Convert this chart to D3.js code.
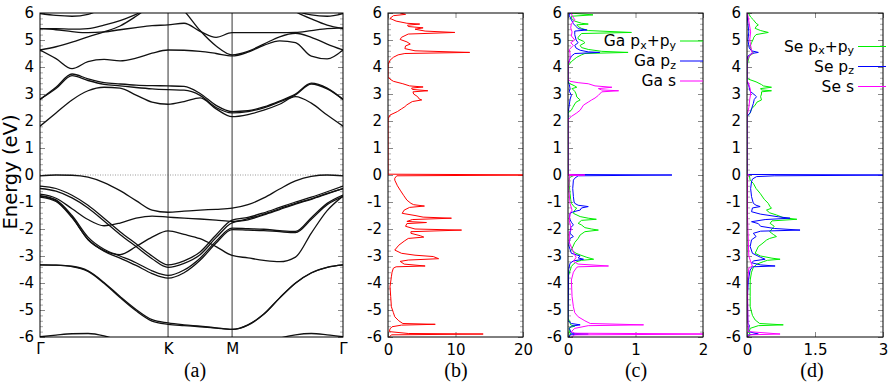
<!DOCTYPE html>
<html><head><meta charset="utf-8">
<script src="https://cdn.jsdelivr.net/npm/d3@7"></script>
<style>body{margin:0;background:#fff} svg{display:block}</style>
</head><body><svg id="chart" width="894" height="382"></svg>
<script>
// ---------------- DATA ----------------
// high-symmetry path (relative lengths G-K : K-M : M-G)
const kNodes = [0, 1, 1.5, 2.366];
const kLabels = ["Γ", "K", "M", "Γ"];
// k sampling along the path
const kGrid = [0, 0.125, 0.25, 0.375, 0.5, 0.625, 0.75, 0.875, 1,
  1.125, 1.25, 1.375, 1.5,
  1.6237, 1.7474, 1.8711, 1.9949, 2.1186, 2.2423, 2.366];

// band energies (eV) at kGrid
const cb1 = [1.81, 2.30, 2.78, 3.12, 3.25, 3.22, 2.96, 2.70, 2.62, 2.72, 2.86, 2.45, 2.16, 2.24, 2.40, 2.62, 2.90, 2.66, 2.22, 1.81];
const cb2 = [2.80, 3.25, 3.74, 3.56, 3.42, 3.37, 3.33, 3.31, 3.30, 3.28, 3.02, 2.58, 2.35, 2.38, 2.52, 2.74, 3.00, 3.40, 3.22, 2.80];
const cb3 = [2.80, 3.20, 3.68, 3.50, 3.36, 3.30, 3.24, 3.19, 3.16, 3.14, 2.95, 2.50, 2.30, 2.35, 2.49, 2.71, 2.97, 3.37, 3.19, 2.80];
const cb4 = [4.63, 4.31, 3.94, 4.20, 4.28, 4.23, 4.33, 4.51, 4.63, 4.62, 4.58, 4.50, 4.41, 4.55, 4.80, 4.97, 4.90, 4.40, 4.30, 4.63];
const cb5 = [4.63, 4.75, 4.92, 5.12, 5.30, 5.52, 5.88, 6.30, 6.60, 6.08, 5.35, 4.78, 4.45, 4.58, 4.85, 5.12, 5.25, 5.10, 4.85, 4.63];
const cb6 = [5.42, 5.38, 5.31, 5.27, 5.30, 5.38, 5.46, 5.53, 5.56, 5.62, 5.32, 5.10, 5.27, 5.27, 5.27, 5.27, 5.28, 5.35, 5.42, 5.45];
const cb7 = [5.42, 5.42, 5.40, 5.42, 5.55, 5.72, 5.95, 6.30, 6.60, 6.80, 6.90, 6.90, 6.80, 6.70, 6.60, 6.40, 6.05, 5.78, 5.55, 5.42];
const cb8 = [5.98, 5.91, 5.88, 5.95, 6.20, 6.50, 6.80, 7.00, 7.00, 7.00, 7.00, 7.00, 7.00, 7.00, 6.80, 6.50, 6.10, 5.93, 5.88, 5.98];
const vb1 = [-0.03, 0.0, -0.01, -0.08, -0.28, -0.58, -0.95, -1.30, -1.38, -1.34, -1.30, -1.27, -1.23, -1.10, -0.85, -0.52, -0.22, -0.05, 0.0, -0.03];
const vb2 = [-0.71, -0.86, -1.25, -1.65, -1.88, -1.78, -1.60, -1.52, -1.56, -1.60, -1.63, -1.67, -1.72, -1.62, -1.45, -1.25, -1.05, -0.88, -0.68, -0.50];
const vb3 = [-0.78, -0.95, -1.55, -2.40, -2.80, -2.95, -2.65, -2.30, -2.07, -2.20, -2.36, -2.65, -2.98, -3.07, -3.16, -3.21, -3.04, -2.15, -1.32, -0.78];
const vb4 = [-0.41, -0.50, -0.75, -1.12, -1.60, -2.10, -2.55, -3.00, -3.33, -3.18, -2.85, -2.22, -1.67, -1.57, -1.40, -1.20, -1.00, -0.82, -0.62, -0.41];
const vb5 = [-0.50, -0.60, -0.85, -1.22, -1.70, -2.20, -2.65, -3.10, -3.42, -3.27, -2.95, -2.32, -1.77, -1.66, -1.48, -1.28, -1.08, -0.90, -0.70, -0.50];
const vb6 = [-0.76, -0.92, -1.50, -2.30, -2.75, -3.00, -3.25, -3.55, -3.72, -3.52, -3.08, -2.45, -1.97, -1.99, -2.01, -2.06, -2.09, -1.58, -1.05, -0.74];
const vb7 = [-0.82, -0.98, -1.58, -2.38, -2.82, -3.08, -3.35, -3.65, -3.82, -3.62, -3.16, -2.52, -2.02, -2.04, -2.06, -2.10, -2.13, -1.64, -1.10, -0.80];
const vb8 = [-3.33, -3.34, -3.38, -3.55, -3.98, -4.50, -4.98, -5.36, -5.48, -5.55, -5.60, -5.66, -5.72, -5.55, -5.15, -4.55, -4.00, -3.62, -3.42, -3.33];
const vb9 = [-3.33, -3.34, -3.39, -3.57, -4.01, -4.54, -5.03, -5.41, -5.53, -5.58, -5.62, -5.67, -5.72, -5.56, -5.16, -4.56, -4.01, -3.63, -3.42, -3.33];
const vb10 = [-5.99, -5.93, -5.88, -5.87, -5.96, -6.15, -6.40, -6.60, -6.70, -6.70, -6.70, -6.70, -6.70, -6.50, -6.30, -6.05, -5.92, -5.87, -5.92, -5.99];
const bands = [cb1, cb2, cb3, cb4, cb5, cb6, cb7, cb8, vb1, vb2, vb3, vb4, vb5, vb6, vb7, vb8, vb9, vb10];

// DOS: [energy (eV), states]
const dosTotal = [[6.0,1.8],[5.95,2.6],[5.9,0.8],[5.8,0.3],[5.7,1.2],[5.62,2.8],[5.59,4.7],[5.55,2.9],[5.5,3.0],[5.45,5.2],[5.4,4.0],[5.33,5.5],[5.28,9.9],[5.22,3.0],[5.1,2.0],[5.02,1.8],[4.93,2.8],[4.85,3.3],[4.78,2.6],[4.68,2.5],[4.6,4.0],[4.54,12.1],[4.5,2.5],[4.45,1.5],[4.36,0.8],[4.25,0.3],[4.1,0.05],[3.95,0],[3.65,0],[3.55,0.3],[3.47,0.8],[3.38,2.2],[3.3,3.2],[3.26,5.2],[3.22,3.5],[3.17,3.6],[3.12,5.9],[3.08,3.7],[3.0,3.8],[2.9,4.4],[2.82,4.6],[2.78,5.0],[2.72,3.6],[2.6,2.8],[2.53,2.5],[2.45,2.0],[2.35,1.4],[2.22,0.3],[2.1,0.05],[2.0,0],[0.03,0],[0.0,25],[-0.03,1.3],[-0.12,1.0],[-0.19,1.0],[-0.4,1.4],[-0.56,1.8],[-0.75,2.3],[-0.93,2.8],[-1.05,3.4],[-1.1,3.8],[-1.15,5.4],[-1.2,3.2],[-1.3,2.4],[-1.42,2.1],[-1.5,4.0],[-1.56,5.2],[-1.6,9.4],[-1.65,3.6],[-1.72,2.8],[-1.76,5.7],[-1.8,2.8],[-1.9,2.6],[-2.0,4.0],[-2.04,10.9],[-2.1,3.4],[-2.16,3.4],[-2.25,4.8],[-2.3,5.3],[-2.35,3.0],[-2.45,2.4],[-2.6,1.6],[-2.78,1.0],[-2.9,2.0],[-2.97,4.0],[-3.02,6.7],[-3.1,7.5],[-3.15,3.0],[-3.2,1.8],[-3.3,2.4],[-3.37,5.5],[-3.4,1.2],[-3.45,0.8],[-3.6,0.6],[-3.77,0.5],[-4.14,0.3],[-4.5,0.4],[-4.88,0.5],[-5.1,0.8],[-5.25,1.0],[-5.4,1.6],[-5.5,2.2],[-5.53,7.0],[-5.56,2.0],[-5.62,0.6],[-5.7,0.3],[-5.8,0.2],[-5.87,3],[-5.89,14.1],[-5.92,0.5],[-6.0,0.2]];

const gaPxy = [[6.0,0.03],[5.93,0.37],[5.88,0.05],[5.8,0.05],[5.7,0.1],[5.62,0.2],[5.59,0.30],[5.56,0.13],[5.5,0.15],[5.43,0.2],[5.35,0.3],[5.28,0.94],[5.24,0.2],[5.1,0.15],[5.04,0.15],[4.95,0.23],[4.9,0.25],[4.8,0.18],[4.72,0.2],[4.65,0.3],[4.58,0.5],[4.54,0.89],[4.5,0.25],[4.45,0.2],[4.36,0.13],[4.2,0.05],[4.04,0.0],[3.45,0],[3.38,0.03],[3.3,0.1],[3.25,0.13],[3.2,0.06],[3.1,0.1],[3.0,0.12],[2.89,0.13],[2.78,0.18],[2.7,0.12],[2.63,0.1],[2.5,0.07],[2.4,0.05],[2.3,0.0],[0.02,0],[0.0,0.1],[-0.1,0.02],[-0.4,0.02],[-0.68,0.03],[-0.9,0.04],[-1.05,0.05],[-1.2,0.1],[-1.23,0.13],[-1.3,0.1],[-1.42,0.08],[-1.54,0.18],[-1.6,0.3],[-1.64,0.42],[-1.68,0.2],[-1.79,0.15],[-1.85,0.2],[-1.95,0.25],[-2.0,0.35],[-2.04,0.45],[-2.1,0.25],[-2.22,0.18],[-2.35,0.15],[-2.5,0.1],[-2.78,0.05],[-2.9,0.12],[-2.96,0.18],[-3.05,0.28],[-3.12,0.38],[-3.16,0.2],[-3.21,0.13],[-3.3,0.08],[-3.39,0.05],[-3.55,0.03],[-3.77,0.0],[-5.3,0.0],[-5.4,0.02],[-5.55,0.04],[-5.6,0.1],[-5.65,0.02],[-5.85,0.02],[-5.89,0.05],[-5.92,0.02],[-6.0,0.02]];
const gaPz = [[6.0,0.03],[5.9,0.02],[5.75,0.05],[5.6,0.08],[5.5,0.12],[5.42,0.15],[5.37,0.28],[5.33,0.1],[5.2,0.1],[5.0,0.12],[4.9,0.15],[4.8,0.1],[4.7,0.12],[4.62,0.18],[4.56,0.3],[4.54,0.47],[4.5,0.1],[4.4,0.05],[4.3,0.03],[4.1,0.0],[3.45,0],[3.35,0.02],[3.2,0.03],[3.1,0.02],[2.95,0.05],[2.8,0.03],[2.6,0.02],[2.3,0.0],[0.02,0],[0.0,1.54],[-0.03,0.15],[-0.12,0.1],[-0.19,0.08],[-0.5,0.07],[-0.8,0.08],[-1.0,0.09],[-1.05,0.1],[-1.12,0.15],[-1.17,0.3],[-1.22,0.2],[-1.3,0.18],[-1.36,0.08],[-1.42,0.03],[-1.6,0.02],[-1.75,0.05],[-1.85,0.08],[-1.95,0.04],[-2.16,0.03],[-2.28,0.08],[-2.35,0.03],[-2.6,0.01],[-2.9,0.05],[-3.0,0.18],[-3.07,0.15],[-3.12,0.23],[-3.18,0.08],[-3.27,0.03],[-3.5,0.01],[-5.4,0.0],[-5.5,0.05],[-5.55,0.18],[-5.6,0.05],[-5.68,0.02],[-5.86,0.05],[-5.89,0.3],[-5.92,0.03],[-6.0,0.02]];
const gaS = [[6.0,0.05],[5.9,0.06],[5.75,0.1],[5.6,0.05],[5.45,0.04],[5.3,0.06],[5.15,0.05],[5.0,0.1],[4.9,0.04],[4.8,0.08],[4.65,0.02],[4.5,0.03],[4.3,0.03],[4.1,0.0],[3.55,0],[3.47,0.03],[3.42,0.15],[3.38,0.3],[3.3,0.4],[3.25,0.65],[3.2,0.45],[3.15,0.5],[3.12,0.75],[3.08,0.5],[2.95,0.45],[2.85,0.4],[2.78,0.35],[2.7,0.3],[2.59,0.23],[2.4,0.18],[2.3,0.13],[2.17,0.05],[2.04,0.0],[0.02,0],[0.0,0.25],[-0.03,0.02],[-0.5,0.01],[-1.05,0.03],[-1.3,0.06],[-1.42,0.03],[-1.7,0.02],[-2.04,0.05],[-2.1,0.02],[-2.5,0.02],[-2.96,0.1],[-3.05,0.12],[-3.2,0.08],[-3.3,0.15],[-3.37,0.6],[-3.4,0.15],[-3.42,0.13],[-3.6,0.08],[-3.89,0.05],[-4.5,0.06],[-4.88,0.08],[-5.1,0.1],[-5.25,0.15],[-5.4,0.25],[-5.5,0.33],[-5.55,1.12],[-5.58,0.3],[-5.68,0.1],[-5.8,0.05],[-5.86,0.1],[-5.89,2.5],[-5.92,0.1],[-6.0,0.05]];

const sePxy = [[6.0,0.03],[5.85,0.08],[5.75,0.14],[5.62,0.2],[5.56,0.25],[5.5,0.2],[5.43,0.18],[5.35,0.3],[5.28,0.47],[5.2,0.2],[5.1,0.15],[5.04,0.14],[4.9,0.1],[4.77,0.07],[4.6,0.1],[4.51,0.14],[4.4,0.05],[4.2,0.02],[4.0,0.0],[3.62,0],[3.55,0.03],[3.45,0.2],[3.35,0.32],[3.3,0.36],[3.25,0.54],[3.2,0.3],[3.15,0.32],[3.12,0.54],[3.08,0.32],[3.0,0.32],[2.9,0.3],[2.78,0.32],[2.7,0.22],[2.59,0.18],[2.45,0.1],[2.3,0.07],[2.17,0.0],[0.02,0],[0.0,0.05],[-0.19,0.07],[-0.31,0.14],[-0.5,0.2],[-0.68,0.29],[-0.9,0.38],[-1.05,0.47],[-1.15,0.5],[-1.23,0.54],[-1.3,0.43],[-1.4,0.5],[-1.48,0.65],[-1.58,0.8],[-1.64,1.1],[-1.7,0.55],[-1.79,0.51],[-1.9,0.6],[-2.0,0.55],[-2.1,0.5],[-2.2,0.58],[-2.28,0.65],[-2.35,0.5],[-2.41,0.43],[-2.55,0.33],[-2.65,0.25],[-2.9,0.18],[-3.0,0.3],[-3.08,0.55],[-3.12,0.73],[-3.16,0.45],[-3.21,0.36],[-3.3,0.22],[-3.42,0.14],[-3.6,0.1],[-3.89,0.07],[-4.5,0.07],[-4.88,0.07],[-5.2,0.12],[-5.37,0.18],[-5.5,0.28],[-5.55,0.8],[-5.58,0.25],[-5.68,0.07],[-5.85,0.04],[-5.9,0.08],[-6.0,0.03]];
const sePz = [[6.0,0.0],[5.6,0.02],[5.3,0.04],[5.0,0.02],[4.7,0.05],[4.6,0.1],[4.54,0.25],[4.5,0.1],[4.4,0.02],[4.2,0.0],[3.5,0],[3.3,0.04],[3.1,0.07],[2.95,0.18],[2.9,0.21],[2.8,0.16],[2.65,0.14],[2.45,0.1],[2.3,0.07],[2.17,0.0],[0.02,0],[0.0,3.5],[-0.03,0.6],[-0.06,0.21],[-0.15,0.12],[-0.25,0.1],[-0.5,0.08],[-0.8,0.1],[-1.05,0.14],[-1.12,0.2],[-1.17,0.29],[-1.22,0.12],[-1.36,0.1],[-1.45,0.3],[-1.55,0.7],[-1.6,0.95],[-1.65,0.4],[-1.73,0.1],[-1.8,0.25],[-1.9,0.3],[-1.98,0.6],[-2.04,1.17],[-2.08,0.3],[-2.16,0.14],[-2.28,0.2],[-2.4,0.1],[-2.65,0.07],[-2.9,0.12],[-3.05,0.3],[-3.12,0.4],[-3.18,0.15],[-3.25,0.1],[-3.33,0.3],[-3.37,0.62],[-3.4,0.12],[-3.52,0.07],[-3.89,0.03],[-4.5,0.01],[-5.5,0.02],[-5.55,0.05],[-5.8,0.03],[-5.89,0.25],[-5.92,0.03],[-6.0,0.02]];
const seS = [[6.0,0.01],[5.6,0.05],[5.3,0.08],[5.0,0.06],[4.8,0.08],[4.6,0.1],[4.5,0.12],[4.4,0.04],[4.2,0.0],[3.5,0],[3.4,0.03],[3.2,0.07],[3.0,0.08],[2.8,0.06],[2.5,0.04],[2.2,0.0],[0.02,0],[0.0,0.05],[-0.1,0.01],[-1.5,0.01],[-2.0,0.02],[-3.0,0.04],[-3.3,0.1],[-3.37,0.12],[-3.45,0.04],[-4.0,0.01],[-5.5,0.02],[-5.8,0.03],[-5.89,0.73],[-5.92,0.05],[-6.0,0.02]];

const yMajor = [-6, -5, -4, -3, -2, -1, 0, 1, 2, 3, 4, 5, 6];
const xTicksB = [0, 10, 20];
const xTicksC = [0, 1, 2];
const xTicksD = [0, 1.5, 3];
const legendC = [["Ga", "x", "y"], ["Ga", "z"], ["Ga s"]];
const legendD = [["Se", "x", "y"], ["Se", "z"], ["Se s"]];
const panelNames = ["(a)", "(b)", "(c)", "(d)"];

// ---------------- DRAW ----------------
(function () {
const FONT = "DejaVu Sans";
const svg = d3.select("#chart");
const yT = 13, yB = 337;
const y = d3.scaleLinear().domain([-6, 6]).range([yB, yT]);
const yMinor = d3.range(-60, 61, 2).map(v => v / 10).filter(v => Math.abs(v - Math.round(v)) > 1e-6);

const panels = [
  {x0: 40, x1: 343, lx: 195},
  {x0: 388, x1: 523, dom: [0, 20], ticks: xTicksB, lx: 456},
  {x0: 568, x1: 703, dom: [0, 2], ticks: xTicksC, lx: 636},
  {x0: 747, x1: 883, dom: [0, 3], ticks: xTicksD, lx: 812}
];
const defs = svg.append("defs");
panels.forEach((p, i) => {
  defs.append("clipPath").attr("id", "clip" + i).append("rect")
    .attr("x", p.x0).attr("y", yT).attr("width", p.x1 - p.x0).attr("height", yB - yT);
});

function styleAxis(g, color) {
  g.select(".domain").remove();
  g.selectAll(".tick line").attr("stroke", color || "#888").attr("stroke-width", 1);
  g.selectAll("text").attr("font-family", FONT).attr("font-size", 15).attr("fill", "#000");
}

function yAxes(p) {
  const gl = svg.append("g").attr("transform", `translate(${p.x0},0)`)
    .call(d3.axisLeft(y).tickValues(yMajor).tickSizeInner(-5).tickSizeOuter(0).tickPadding(6).tickFormat(d => String(d)));
  styleAxis(gl);
  const glm = svg.append("g").attr("transform", `translate(${p.x0},0)`)
    .call(d3.axisLeft(y).tickValues(yMinor).tickSizeInner(-3).tickSizeOuter(0).tickFormat(""));
  styleAxis(glm, "#aaa");
  const gr = svg.append("g").attr("transform", `translate(${p.x1},0)`)
    .call(d3.axisRight(y).tickValues(yMajor).tickSizeInner(-5).tickSizeOuter(0).tickFormat(""));
  styleAxis(gr);
  const grm = svg.append("g").attr("transform", `translate(${p.x1},0)`)
    .call(d3.axisRight(y).tickValues(yMinor).tickSizeInner(-3).tickSizeOuter(0).tickFormat(""));
  styleAxis(grm, "#aaa");
}

// ---- panel (a): bands ----
const pa = panels[0];
const xk = d3.scaleLinear().domain([kNodes[0], kNodes[3]]).range([pa.x0, pa.x1]);
yAxes(pa);
const gxa = svg.append("g").attr("transform", `translate(0,${yB})`)
  .call(d3.axisBottom(xk).tickValues(kNodes).tickSize(0).tickPadding(6).tickFormat((d, i) => kLabels[i]));
styleAxis(gxa);

svg.append("line").attr("x1", pa.x0).attr("x2", pa.x1).attr("y1", y(0)).attr("y2", y(0))
  .attr("stroke", "#999").attr("stroke-width", 1).attr("stroke-dasharray", "1,1.5");
[kNodes[1], kNodes[2]].forEach(k => {
  svg.append("line").attr("x1", xk(k)).attr("x2", xk(k)).attr("y1", yT).attr("y2", yB)
    .attr("stroke", "#555").attr("stroke-width", 1.2);
});
const bandLine = d3.line().x((d, i) => xk(kGrid[i])).y(d => y(d)).curve(d3.curveMonotoneX);
const gb = svg.append("g").attr("clip-path", "url(#clip0)");
bands.forEach(b => {
  gb.append("path").attr("d", bandLine(b)).attr("fill", "none")
    .attr("stroke", "#111").attr("stroke-width", 1.3);
});

// ---- DOS panels ----
const GREEN = "#00ee00", BLUE = "#0000ff", MAG = "#ff00ff", RED = "#ff0000";
function dosPanel(i, series, colors) {
  const p = panels[i];
  const xs = d3.scaleLinear().domain(p.dom).range([p.x0, p.x1]);
  yAxes(p);
  const gx = svg.append("g").attr("transform", `translate(0,${yB})`)
    .call(d3.axisBottom(xs).tickValues(p.ticks).tickSizeInner(-5).tickSizeOuter(0).tickPadding(7).tickFormat(d => String(d)));
  styleAxis(gx);
  const gxt = svg.append("g").attr("transform", `translate(0,${yT})`)
    .call(d3.axisTop(xs).tickValues(p.ticks).tickSizeInner(-5).tickSizeOuter(0).tickFormat(""));
  styleAxis(gxt);
  const line = d3.line().x(d => xs(d[1])).y(d => y(d[0]));
  const g = svg.append("g").attr("clip-path", `url(#clip${i})`);
  series.forEach((s, j) => {
    g.append("path").attr("d", line(s)).attr("fill", "none")
      .attr("stroke", colors[j]).attr("stroke-width", 1);
  });
}
dosPanel(1, [dosTotal], [RED]);
dosPanel(2, [gaPxy, gaPz, gaS], [GREEN, BLUE, MAG]);
dosPanel(3, [sePxy, sePz, seS], [GREEN, BLUE, MAG]);

// frames
panels.forEach(p => {
  svg.append("rect").attr("x", p.x0).attr("y", yT).attr("width", p.x1 - p.x0).attr("height", yB - yT)
    .attr("fill", "none").attr("stroke", "#000").attr("stroke-width", 1);
});

// legends
function legend(items, textEnd, lx0, lx1, ys) {
  const cols = [GREEN, BLUE, MAG];
  items.forEach((it, j) => {
    const t = svg.append("text").attr("x", textEnd).attr("y", ys[j]).attr("dy", "0.35em")
      .attr("text-anchor", "end").attr("font-family", FONT).attr("font-size", 15.5).attr("fill", "#000");
    if (it.length === 3) {
      t.append("tspan").text(it[0] + " p");
      t.append("tspan").attr("font-size", 11).attr("dy", 2.5).text(it[1]);
      t.append("tspan").attr("dy", -2.5).text("+p");
      t.append("tspan").attr("font-size", 11).attr("dy", 2.5).text(it[2]);
    } else if (it.length === 2) {
      t.append("tspan").text(it[0] + " p");
      t.append("tspan").attr("font-size", 11).attr("dy", 2.5).text(it[1]);
    } else {
      t.append("tspan").text(it[0]);
    }
    svg.append("line").attr("x1", lx0).attr("x2", lx1).attr("y1", ys[j]).attr("y2", ys[j])
      .attr("stroke", cols[j]).attr("stroke-width", 1);
  });
}
legend(legendC, 676, 680, 703, [41, 61, 81]);
legend(legendD, 854, 858, 886, [46.5, 66.5, 86.5]);

// axis title
svg.append("text").attr("transform", "translate(17,172) rotate(-90)")
  .attr("text-anchor", "middle").attr("font-family", FONT).attr("font-size", 19.5).text("Energy (eV)");

// panel labels
panelNames.forEach((n, i) => {
  svg.append("text").attr("x", panels[i].lx).attr("y", 377)
    .attr("text-anchor", "middle").attr("font-family", "Liberation Serif").attr("font-size", 20).text(n);
});
})();
</script>
</body></html>
